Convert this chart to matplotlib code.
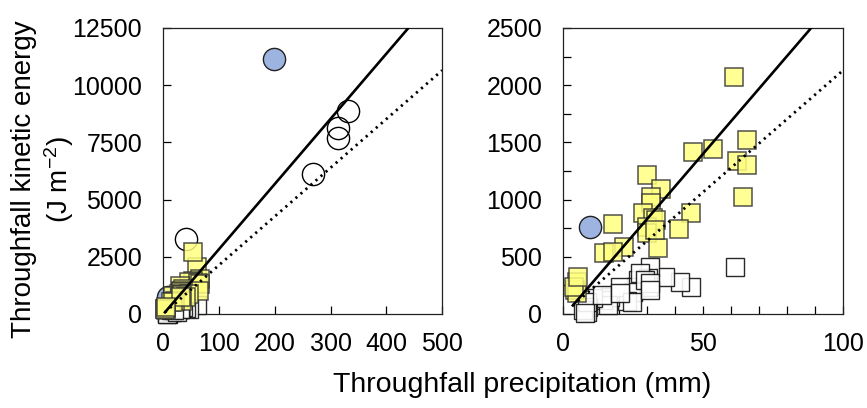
import numpy as np
import matplotlib
matplotlib.use("Agg")
import matplotlib.pyplot as plt

plt.rcParams['font.family'] = ['Liberation Sans', 'DejaVu Sans']
plt.rcParams['mathtext.fontset'] = 'custom'
plt.rcParams['mathtext.rm'] = 'Liberation Sans'
plt.rcParams['mathtext.it'] = 'Liberation Sans'

# open circles (large events)
circ_x = [332, 314, 314, 268, 41]
circ_y = [8870, 8120, 7680, 6130, 3265]

# blue filled circles
blue_x = [199, 9.6]
blue_y = [11130, 758]

# yellow filled squares
ysq_x = [61.1, 65.7, 53.7, 46.5, 62.3, 65.7, 64.2, 29.9, 35.0, 31.4,
         31.4, 28.7, 32.3, 45.7, 18.0, 29.9, 33.2, 41.4, 30.1, 33.8,
         21.8, 14.6, 18.0, 4.9, 4.3, 4.9, 3.8, 32.9, 5.5, 54.0]
ysq_y = [2074, 1521, 1442, 1419, 1340, 1302, 1020, 1215, 1093, 1025,
         968, 880, 836, 886, 787, 763, 822, 743, 705, 574,
         588, 530, 545, 283, 210, 181, 239, 734, 326, 2700]

# open squares
osq_x = [61.5, 45.7, 41.8, 36.4, 31.1, 30.4, 28.7, 26.9, 26.1, 30.4,
         25.1, 22.7, 16.8, 14.4, 16.0, 10.8, 9.0, 8.7, 7.3, 20.4,
         27.5, 8.5, 7.9, 13.8, 24.5, 29.3, 31.1, 31.1, 20.4]
osq_y = [414, 233, 283, 326, 414, 312, 296, 296, 239, 233,
         195, 114, 151, 122, 79, 137, 64, 20, 35, 239,
         355, 108, 5, 166, 108, 297, 268, 210, 181]

# regression lines
line_x = np.array([3.5, 500])
solid_slope, solid_icpt = 28.5, -25
dot_slope = 21.3


def inside(xs, ys, xmax, ymax):
    xs, ys = np.asarray(xs), np.asarray(ys)
    keep = (xs <= xmax) & (ys <= ymax)
    return xs[keep], ys[keep]


fig = plt.figure(figsize=(8.67, 4.08), dpi=100)
ax1 = fig.add_axes([0.188, 0.2304, 0.322, 0.701])
ax2 = fig.add_axes([0.6494, 0.2304, 0.323, 0.701])

for ax, xmax, ymax in ((ax1, 500, 12500), (ax2, 100, 2500)):
    x, y = inside(circ_x, circ_y, xmax, ymax)
    ax.plot(x, y, 'o', ms=16, mfc='none', mec='black', mew=1.0, zorder=2, clip_on=False)
    x, y = inside(blue_x, blue_y, xmax, ymax)
    ax.plot(x, y, 'o', ms=16, mfc='#9db3e0', mec='#222222', mew=1.0, zorder=2, clip_on=False)
    x, y = inside(osq_x, osq_y, xmax, ymax)
    ax.plot(x, y, 's', ms=13, mfc='white', mec='#111111', mew=1.0, alpha=0.9,
            zorder=3, clip_on=False)
    x, y = inside(ysq_x, ysq_y, xmax, ymax)
    ax.plot(x, y, 's', ms=13, mfc='#ffff80', mec='#333333', mew=1.1,
            alpha=0.85, zorder=4, clip_on=False)
    ax.plot(line_x, solid_slope * line_x + solid_icpt, '-', color='black', lw=1.9, zorder=5)
    ax.plot(line_x, dot_slope * line_x, color='black', lw=2.0,
            linestyle=(0, (0.8, 1.6)), zorder=5)
    ax.tick_params(direction='in', length=5.5, width=0.9, labelsize=18,
                   colors='black')
    ax.tick_params(axis='x', pad=13)
    ax.tick_params(axis='y', pad=15)
    for sp in ax.spines.values():
        sp.set_linewidth(0.9)
        sp.set_color('#222222')

ax1.set_xlim(0, 500)
ax1.set_ylim(0, 12500)
ax1.set_xticks(np.arange(0, 501, 100))
ax1.set_yticks(np.arange(0, 12501, 2500))

ax2.set_xlim(0, 100)
ax2.set_ylim(0, 2500)
ax2.set_xticks(np.arange(0, 101, 10))
ax2.set_xticklabels([str(v) if v % 50 == 0 else '' for v in range(0, 101, 10)])
ax2.set_yticks(np.arange(0, 2501, 250))
ax2.set_yticklabels([str(v) if v % 500 == 0 else '' for v in range(0, 2501, 250)])

ax1.set_ylabel("Throughfall kinetic energy\n(J m$^{-2}$)", fontsize=20,
               linespacing=1.2)
ax1.yaxis.set_label_coords(-0.312, 0.47)

fig.text(0.602, 0.056, "Throughfall precipitation (mm)", fontsize=20.5,
         ha='center', va='center')

fig.savefig("out.png", dpi=100)
